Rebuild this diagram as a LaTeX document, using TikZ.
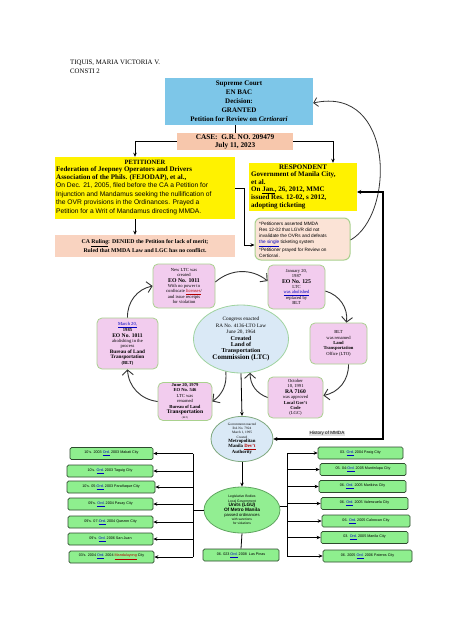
\documentclass[tikz,border=0pt]{standalone}
\usepackage{fontspec}
\setmainfont{Liberation Serif}
\setsansfont{Liberation Sans}
\usetikzlibrary{arrows.meta,shapes.geometric}
\newcommand\myfs[2]{\fontsize{#1}{#2}\selectfont}
\newcommand\hlw[1]{\textcolor{blue!75!black}{\underline{#1}}}
\definecolor{scblue}{HTML}{7DC6E8}
\definecolor{salmon}{HTML}{F7C7AC}
\definecolor{salmonl}{HTML}{F9D3C0}
\definecolor{notefill}{HTML}{FBE3D6}
\definecolor{notebd}{HTML}{A9D18E}
\definecolor{pinkf}{HTML}{F2CCEE}
\definecolor{pinkbd}{HTML}{A9D18E}
\definecolor{ltcf}{HTML}{DAE9F6}
\definecolor{ltcbd}{HTML}{9FD39F}
\definecolor{grf}{HTML}{92EE92}
\definecolor{grbd}{HTML}{5FA55F}
\definecolor{gbox}{HTML}{8EEF8E}
\definecolor{gboxbd}{HTML}{2E4A2E}
\begin{document}
\begin{tikzpicture}[x=1pt,y=-1pt,
  conn/.style={-{Stealth[length=4pt,width=3.5pt]}, line width=0.8pt},
  cyc/.style={draw=black!80, line width=0.9pt, -{Straight Barb[length=5pt,width=11pt,line width=0.9pt]}},
  pinkbox/.style={draw=pinkbd, fill=pinkf, rounded corners=5pt, line width=0.8pt, align=center, inner sep=1pt, font=\myfs{4.6}{5.4}},
  gbx/.style={draw=gboxbd, fill=gbox, rounded corners=1.5pt, line width=0.7pt, font=\sffamily\myfs{3.7}{4}, inner sep=0pt, minimum height=12},
  ell/.style={ellipse, inner sep=0pt, align=center, line width=0.8pt},
  txt/.style={inner sep=0pt, align=left, anchor=north west}
]
\useasboundingbox (0,0) rectangle (474,632);
\fill[white] (0,0) rectangle (474,632);

% title
\node[txt, font=\myfs{6.8}{9}] (title) at (70,60) {TIQUIS, MARIA VICTORIA V.\\CONSTI 2};

% supreme court
\node[fill=scblue, minimum width=148, minimum height=47, align=center, inner sep=0pt, font=\bfseries\myfs{7}{9}] (sc) at (239,101.5)
 {Supreme Court\\EN BAC\\Decision:\\GRANTED\\Petition for Review on \textit{Certiorari}};

% case
\node[fill=salmon, minimum width=116, minimum height=17, align=center, inner sep=0pt, font=\bfseries\myfs{7.3}{8}] (case) at (235,141.5)
 {CASE:~~G.R. NO. 209479\\July 11, 2023};

% petitioner
\node[fill=yellow, minimum width=180, minimum height=62, inner sep=0pt] (pet) at (145,188) {};
\node[inner sep=0pt, font=\bfseries\myfs{6.5}{7}] (pethead) at (145,162.5) {PETITIONER};
\node[txt, font=\sffamily\myfs{6.7}{8.4}] (pettext) at (56,166)
 {{\rmfamily\bfseries\myfs{7}{8.4}Federation of Jeepney Operators and Drivers}\\
  {\rmfamily\bfseries\myfs{7}{8.4}Association of the Phils. (FEJODAP), et al.,}\\
  On Dec. 21, 2005, filed before the CA a Petition for\\
  Injunction and Mandamus seeking the nullification of\\
  the OVR provisions in the Ordinances. Prayed a\\
  Petition for a Writ of Mandamus directing MMDA.};

% CA ruling
\node[fill=salmonl, minimum width=180, minimum height=22, align=center, inner sep=0pt, font=\bfseries\myfs{5.8}{9}] (ca) at (145,246)
 {CA \underline{Ruling}: DENIED the Petition for lack of merit;\\Ruled that MMDA Law and LGC has no conflict.};

% respondent
\node[fill=yellow, minimum width=108, minimum height=48, inner sep=0pt] (resp) at (303,187) {};
\node[inner sep=0pt, font=\bfseries\myfs{7}{7.5}] (resphead) at (303,167.5) {RESPONDENT};
\node[txt, font=\bfseries\myfs{7}{7.9}] (resptext) at (251,171)
 {Government of Manila City,\\
  et al.\\
  On \underline{Jan.}, 26, 2012, MMC\\
  issued Res. 12-02, s 2012,\\
  adopting ticketing};

% notes
\node[draw=notebd, line width=1pt, fill=notefill, rounded corners=6pt, minimum width=95, minimum height=42, inner sep=0pt] (notes) at (302.5,239) {};
\node[txt, font=\sffamily\myfs{4.7}{6.2}] (notetext) at (259,221.5)
 {*Petitioners asserted MMDA\\
  Res 12-02 that LGVR did not\\
  invalidate the OVRs and defeats\\
  \hlw{the single} ticketing system\\
  *Petitioner prayed for Review on\\
  Certiorari.};

% connectors top part
\draw[line width=0.8pt] (case.north |- sc.south) -- (case.north);
\draw[conn] (case.west) -| ([xshift=-10pt]pet.north);
\draw[conn] (case.east) -| ([xshift=30pt]resp.north);
\draw[conn] ([xshift=-10pt]pet.south) -- ([xshift=-10pt]ca.north);
\draw[conn] (pet.east) -- ++(9,0) |- ([yshift=-6pt]notes.west);
\draw[draw=black!80, line width=0.8pt, -{Straight Barb[length=4pt,width=9pt,line width=0.8pt]}]
  ([yshift=-1pt]notes.east) .. controls (395,215) and (395,85) .. ([yshift=-1.5pt]sc.east);

% LTC central ellipse
\node[ell, draw=ltcbd, fill=ltcf, minimum width=95, minimum height=68, font=\myfs{5.2}{6.4}] (ltc) at (241,339)
 {Congress enacted\\RA No. 4136-LTO Law\\June 20, 1964\\
  {\bfseries\myfs{6}{7}Created}\\{\bfseries\myfs{6}{7}Land of}\\{\bfseries\myfs{6}{7}Transportation}\\{\bfseries\myfs{7}{8.4}Commission (LTC)}};

% cycle boxes
\node[pinkbox, minimum width=62, minimum height=44] (newltc) at (184,286)
 {New LTC was\\created\\{\bfseries\myfs{5.8}{6.4}EO No. 1011}\\With no power to\\confiscate \textcolor{red!70!black}{\underline{licenses}}/\\and issue receipts\\for violation};
\node[pinkbox, minimum width=57, minimum height=44] (jan) at (296.5,287)
 {January 20,\\1987\\{\bfseries\myfs{5.8}{6.4}EO No. 125}\\LTC\\\hlw{was abolished}\\replaced by\\BLT};
\node[pinkbox, minimum width=57, minimum height=41] (blt) at (338.5,343.5)
 {BLT\\was renamed\\{\bfseries Land}\\{\bfseries Transportation}\\Office (LTO)};
\node[pinkbox, minimum width=55, minimum height=41] (lgc) at (295.5,397.5)
 {October\\10, 1991\\{\bfseries\myfs{5.6}{6.2}RA 7160}\\was approved\\{\bfseries Local Gov't}\\{\bfseries Code}\\(LGC)};
\node[pinkbox, minimum width=54, minimum height=37] (june) at (185,401.5)
 {{\bfseries June 20, 1979}\\{\bfseries EO No. 546}\\LTC was\\renamed\\{\bfseries Bureau of Land}\\{\bfseries\myfs{5.6}{6}Transportation}\\{\myfs{2.5}{3}(BLT)}};
\node[pinkbox, minimum width=61, minimum height=51] (march) at (127.5,343.5)
 {\hlw{March 20,}\\{\bfseries 1985}\\{\bfseries\myfs{5.6}{6.2}EO No. 1011}\\abolishing in the\\process\\{\bfseries\myfs{5.2}{6}Bureau of Land}\\{\bfseries\myfs{5.2}{6}Transportation}\\{\bfseries (BLT)}};

% cycle arrows
\draw[cyc] ([yshift=4pt]newltc.east) to[bend left=40] ([yshift=6pt]jan.west);
\draw[cyc] ([yshift=-4pt]jan.east) to[bend left=40] ([xshift=8pt]blt.north);
\draw[cyc] ([xshift=10pt]blt.south) to[bend left=40] ([yshift=2pt]lgc.east);
\draw[cyc] (lgc.west) to[bend left=35] (ltc.-75);
\draw[cyc] (ltc.-115) to[bend left=30] (june.east);
\draw[cyc] (june.west) to[bend left=40] (march.south);
\draw[cyc] (march.north) to[bend left=40] (newltc.west);

% MMDA ellipse
\node[ell, draw=ltcbd!80!black, fill=ltcf, minimum width=62, minimum height=44, font=\myfs{3.4}{4.2}] (mmda) at (242,439)
 {Government enacted\\RA No. 7924\\March 1, 1995\\Created\\
  {\bfseries\myfs{4.8}{5.6}Metropolitan}\\{\bfseries\myfs{4.8}{5.6}Manila \textcolor{red!70!black}{\underline{Dev't}}}\\{\bfseries\myfs{4.8}{5.6}Authority}};

% green ellipse
\node[ell, draw=grbd, fill=grf, minimum width=76, minimum height=46, font=\sffamily\myfs{3.4}{4.3}] (green) at (242,510)
 {Legislative Bodies\\Local Government\\{\bfseries\myfs{4.8}{5.4}Units (LGU)}\\{\bfseries\myfs{4.8}{5.4}Of Metro Manila}\\{\myfs{4.2}{4.8}passed ordinances}\\{\myfs{3.2}{4}with sanctions}\\{\myfs{3.2}{4}for violations}};

\node[gbx, minimum width=76] (lp) at (241,555) {06. 023 \hlw{Ord.} 2008~~Las Pinas};

\draw[conn] (ltc.south) -- (mmda.north);
\draw[conn] (mmda.south) -- (green.north);
\draw[line width=0.8pt] (green.south) -- (lp.north);

% right long connector
\draw[line width=1.2pt, {Stealth[length=4pt,width=4pt]}-{Stealth[length=4pt,width=4pt]}]
  ([yshift=-5pt]resp.east) -| (383,439) -- (mmda.east);
\node[fill=gray!22, inner sep=0.8pt, font=\sffamily\myfs{4.6}{5}] (hist) at (327,433.5) {History of MMDA};

% left boxes
\node[gbx, minimum width=83] (l1) at (111.5,453.5) {10's. 2003 \hlw{Ord.} 2003 Makati City};
\node[gbx, minimum width=86] (l2) at (110,471) {10's. \hlw{Ord.} 2003 Taguig City};
\node[gbx, minimum width=88] (l3) at (111,487) {10's. 05-\hlw{Ord.} 2003 Parañaque City};
\node[gbx, minimum width=85] (l4) at (110.5,504) {09's. \hlw{Ord.} 2004 Pasay City};
\node[gbx, minimum width=85] (l5) at (110.5,522) {09's. 07-\hlw{Ord.} 2004 Quezon City};
\node[gbx, minimum width=85] (l6) at (110.5,539) {09's. \hlw{Ord.} 2006 San Juan};
\node[gbx, minimum width=85] (l7) at (111.5,557) {03's. 2004 \hlw{Ord.} 2004 \textcolor{red!70!black}{\underline{Mandaluyong}} City};

% right boxes
\node[gbx, minimum width=85] (r1) at (360.5,453) {03. \hlw{Ord.} 2004 Pasig City};
\node[gbx, minimum width=86] (r2) at (363,469.5) {05. 04-\hlw{Ord.} 2005 Muntinlupa City};
\node[gbx, minimum width=87] (r3) at (362.5,486.5) {06. \hlw{Ord.} 2005 Marikina City};
\node[gbx, minimum width=87] (r4) at (364.5,503.5) {06. \hlw{Ord.} 2005 Valenzuela City};
\node[gbx, minimum width=88] (r5) at (366,521) {06. \hlw{Ord.} 2005 Caloocan City};
\node[gbx, minimum width=87] (r6) at (364.5,537.5) {03. \hlw{Ord.} 2005 Manila City};
\node[gbx, minimum width=89] (r7) at (367.5,556) {06. 2005 \hlw{Ord.} 2006 Pateros City};

\coordinate (lv) at (193,0);
\coordinate (rv) at (287,0);
\draw[line width=0.8pt] (lv |- l1.east) -- (lv |- l7.east);
\draw[line width=0.8pt] (rv |- r1.west) -- (rv |- r7.west);
\draw[line width=0.8pt] (green.west) -- (green.west -| lv);
\draw[line width=0.8pt] ([yshift=4pt]green.east) -- ([yshift=4pt]green.east -| rv);
\foreach \i in {1,...,7}{
  \draw[conn] (lv |- l\i.east) -- (l\i.east);
  \draw[conn] (rv |- r\i.west) -- (r\i.west);
}
\end{tikzpicture}
\end{document}
